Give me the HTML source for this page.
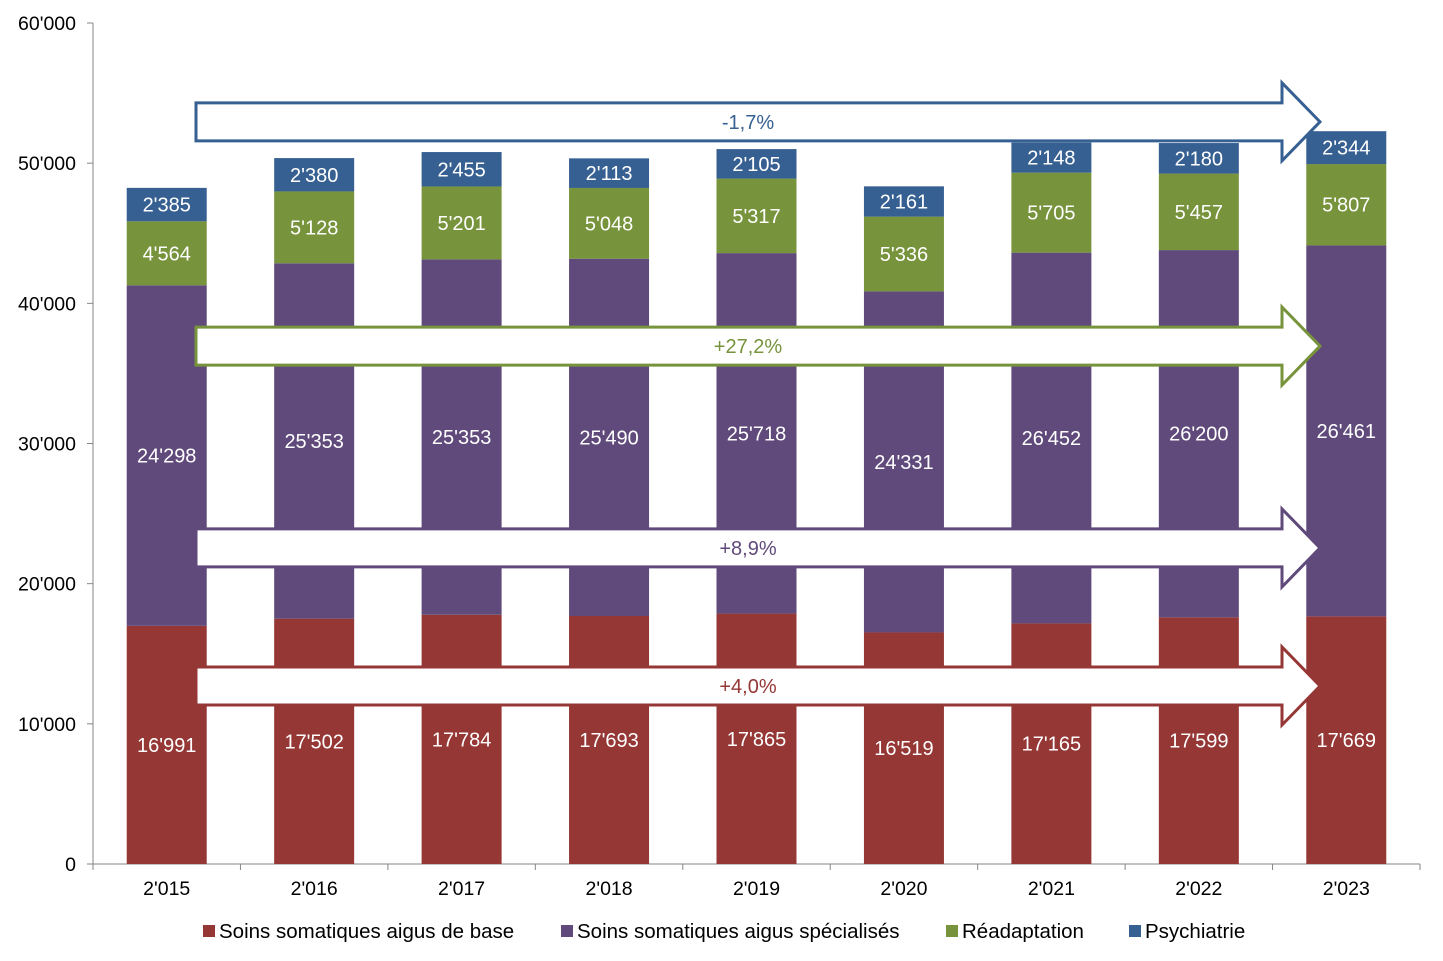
<!DOCTYPE html>
<html><head><meta charset="utf-8"><style>
body{margin:0;background:#fff;}
svg{display:block;font-family:"Liberation Sans",Arial,sans-serif;}
</style></head><body>
<svg id="c" width="1443" height="961"></svg>
<script>
const categories=["2'015","2'016","2'017","2'018","2'019","2'020","2'021","2'022","2'023"];
const base=[16991,17502,17784,17693,17865,16519,17165,17599,17669];
const spec=[24298,25353,25353,25490,25718,24331,26452,26200,26461];
const reado=[4564,5128,5201,5048,5317,5336,5705,5457,5807];
const psy=[2385,2380,2455,2113,2105,2161,2148,2180,2344];
const seriesNames=["Soins somatiques aigus de base","Soins somatiques aigus spécialisés","Réadaptation","Psychiatrie"];
const colors=["#953735","#604a7b","#77933c","#376092"];
const yTicks=[0,10000,20000,30000,40000,50000,60000];
const yTickLabels=["0","10'000","20'000","30'000","40'000","50'000","60'000"];
const arrowLabels=["-1,7%","+27,2%","+8,9%","+4,0%"];
const arrowValues=[52950,36950,22550,12700];
const arrowColors=["#376092","#77933c","#604a7b","#953735"];
const arrowTextColors=["#376092","#77933c","#604a7b","#953735"];

const NS="http://www.w3.org/2000/svg";
const svg=document.getElementById('c');
function el(t,a,p){const e=document.createElementNS(NS,t);for(const k in a)e.setAttribute(k,a[k]);(p||svg).appendChild(e);return e;}
const x0=93,x1=1420,y0=864,y60=23;
const yS=v=>y0-(v/60000)*(y0-y60);
const step=(x1-x0)/categories.length;
const xC=i=>x0+step*(i+0.5);
const bw=80;
function fmt(n){const s=String(n);return s.length>3?s.slice(0,-3)+"'"+s.slice(-3):s;}

let a=el('line',{x1:x0,y1:y60,x2:x0,y2:y0,stroke:'#868686','stroke-width':1});

a=el('line',{x1:x0,y1:y0,x2:x1,y2:y0,stroke:'#868686','stroke-width':1});

yTicks.forEach((v,i)=>{
 el('line',{x1:x0-6,x2:x0,y1:yS(v),y2:yS(v),stroke:'#868686'});
 const t=el('text',{x:x0-17,y:yS(v)+7,'text-anchor':'end','font-size':19.5,fill:'#000'});
 t.textContent=yTickLabels[i];
 
});
for(let i=0;i<=categories.length;i++){el('line',{x1:x0+step*i,x2:x0+step*i,y1:y0,y2:y0+6,stroke:'#868686'});}
categories.forEach((c,i)=>{
 const t=el('text',{x:xC(i),y:895,'text-anchor':'middle','font-size':19.5,fill:'#000'});
 t.textContent=c;
});
const series=[base,spec,reado,psy];
categories.forEach((c,i)=>{
 let cum=0;
 series.forEach((s,k)=>{
  const v=s[i];const yt=yS(cum+v),yb=yS(cum);
  const r=el('rect',{x:xC(i)-bw/2,y:yt,width:bw,height:yb-yt,fill:colors[k]});
  
  const t=el('text',{x:xC(i),y:(yt+yb)/2+7,'text-anchor':'middle','font-size':20,fill:'#fff'});
  t.textContent=fmt(v);
  cum+=v;
 });
});
arrowValues.forEach((v,i)=>{
 const cy=yS(v);const xs=196,xh=1282,xt=1320;
 const pts=[[xs,cy-19],[xh,cy-19],[xh,cy-39],[xt,cy],[xh,cy+39],[xh,cy+19],[xs,cy+19]].map(p=>p.join(',')).join(' ');
 const p=el('polygon',{points:pts,fill:'#fff',stroke:arrowColors[i],'stroke-width':3});
 
 const t=el('text',{x:748,y:cy+7,'text-anchor':'middle','font-size':20,fill:arrowTextColors[i]});
 t.textContent=arrowLabels[i];
});
const lx=[203,561,946,1129];
seriesNames.forEach((n,k)=>{
 const r=el('rect',{x:lx[k],y:925,width:12,height:12,fill:colors[k]});
 
 const t=el('text',{x:lx[k]+16,y:938,'font-size':20.5,fill:'#000'});
 t.textContent=n;
});
</script>
</body></html>
